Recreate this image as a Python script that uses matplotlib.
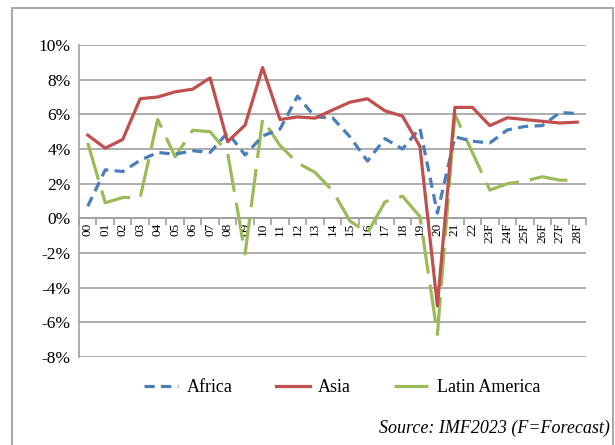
import numpy as np
import matplotlib
matplotlib.use("Agg")
import matplotlib.pyplot as plt
from matplotlib.patches import Rectangle

years = ["00", "01", "02", "03", "04", "05", "06", "07", "08", "09", "10", "11", "12", "13",
         "14", "15", "16", "17", "18", "19", "20", "21", "22",
         "23F", "24F", "25F", "26F", "27F", "28F"]
africa = [0.7, 2.8, 2.7, 3.35, 3.8, 3.7, 3.9, 3.8, 4.95, 3.65, 4.75, 5.15, 7.05, 5.85,
          5.8, 4.7, 3.3, 4.6, 4.0, 5.2, 0.3, 4.7, 4.45, 4.35, 5.1, 5.3, 5.35, 6.1, 6.05]
asia = [4.8, 4.05, 4.55, 6.9, 7.0, 7.3, 7.45, 8.1, 4.42, 5.38, 8.7, 5.7, 5.85, 5.78,
        6.25, 6.7, 6.9, 6.2, 5.9, 4.15, -5.05, 6.4, 6.4, 5.35, 5.8, 5.7, 5.6, 5.5, 5.55]
latin = [4.35, 0.9, 1.2, 1.2, 5.7, 3.55, 5.08, 5.0, 3.78, -2.05, 5.72, 4.2, 3.2, 2.65,
         1.6, -0.15, -0.85, 0.95, 1.28, 0.1, -6.7, 6.0, 3.8, 1.63, 2.0, 2.15, 2.4, 2.2, 2.2]
yticks = [-8, -6, -4, -2, 0, 2, 4, 6, 8, 10]

plt.rcParams['font.family'] = ['Liberation Serif', 'DejaVu Serif']

fig = plt.figure(figsize=(6.15, 4.45), dpi=100)
ax = fig.add_axes([79/615, 1-357/445, (586-79)/615, (357-45)/445])

x = np.arange(len(years))
blue, red, green = '#4A7EBB', '#C0504D', '#9BBB59'
ax.plot(x, africa, color=blue, lw=2.3, dashes=(3.2, 2.0), zorder=4, label='Africa')
ax.plot(x, asia, color=red, lw=2.3, zorder=4, label='Asia')
ax.plot(x, latin, color=green, lw=2.3, dashes=(12, 3.5), zorder=3, label='Latin America')

ax.set_xlim(-0.5, len(years) - 0.5)
ax.set_ylim(-8, 10)
ax.set_yticks(yticks)
ax.set_yticklabels([f"{v}%" for v in yticks], fontsize=12.5)
ax.yaxis.grid(True, color='#a0a0a0', lw=1.2)
ax.set_axisbelow(True)
ax.tick_params(axis='y', length=0, pad=6)

for s in ['top', 'right']:
    ax.spines[s].set_visible(False)
ax.spines['left'].set_color('#a0a0a0')
ax.spines['left'].set_linewidth(1.2)
ax.spines['bottom'].set_position(('data', 0))
ax.spines['bottom'].set_color('#a0a0a0')
ax.spines['bottom'].set_linewidth(1.2)

ax.set_xticks(x)
ax.set_xticklabels(years, rotation=90, fontsize=9.5, va='top')
ax.set_xticks(np.arange(len(years) + 1) - 0.5, minor=True)
ax.tick_params(axis='x', which='major', length=0, pad=3)
ax.tick_params(axis='x', which='minor', length=5, color='#a0a0a0', width=1.2, direction='out')

fig.legend(loc='center', bbox_to_anchor=(0.556, 1-388/445), ncol=3, frameon=False,
           fontsize=13, handlelength=1.9, handletextpad=0.45, columnspacing=2.4)

fig.text(610/615, 1-428/445, "Source: IMF2023 (F=Forecast)", fontsize=13, style='italic',
         ha='right', va='center')

fig.patches.append(Rectangle((12/615, -0.1), (613-12)/615, 1.1 - 8/445,
                             transform=fig.transFigure, fill=False, ec='#a8a8a8', lw=1.5))

fig.savefig("out.png", dpi=100)
